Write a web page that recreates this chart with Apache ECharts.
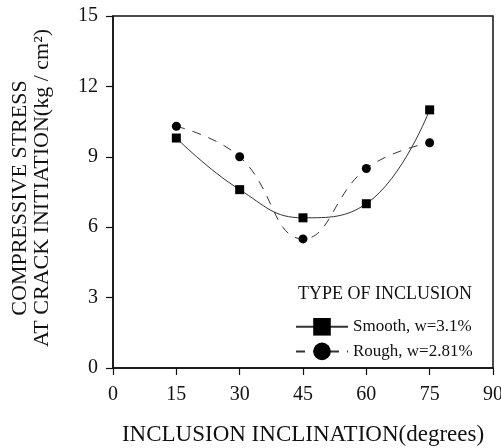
<!DOCTYPE html>
<html><head><meta charset="utf-8">
<script src="https://cdn.jsdelivr.net/npm/echarts@6/dist/echarts.min.js"></script>
<style>html,body{margin:0;padding:0;background:#fff}#c{width:501px;height:448px}</style>
</head><body><div id="c"></div>
<script>
const inclination = [15, 30, 45, 60, 75];
const smoothStress = [9.8, 7.6, 6.4, 7.0, 11.0];
const roughStress = [10.3, 9.0, 5.5, 8.5, 9.6];
const xTicks = [0, 15, 30, 45, 60, 75, 90];
const yTicks = [0, 3, 6, 9, 12, 15];
const seriesNames = ['Smooth, w=3.1%', 'Rough, w=2.81%'];

const F = 'Liberation Serif';
const chart = echarts.init(document.getElementById('c'), null, {renderer: 'canvas'});
chart.setOption({
  animation: false,
  backgroundColor: '#fff',
  grid: {left: 113, right: 8, top: 16, bottom: 80, show: true, borderColor: '#111', borderWidth: 1.5,
         containLabel: false, outerBoundsMode: 'none'},
  xAxis: {
    type: 'value', min: xTicks[0], max: xTicks[xTicks.length-1], interval: 15,
    splitLine: {show: false},
    axisLine: {lineStyle: {color: '#111', width: 1.5}},
    axisTick: {inside: false, length: 7, lineStyle: {color: '#111', width: 1.2}},
    axisLabel: {color: '#111', fontFamily: F, fontSize: 20, margin: 17, showMaxLabel: true, showMinLabel: true},
    name: 'INCLUSION INCLINATION(degrees)', nameLocation: 'middle', nameGap: 55,
    nameTextStyle: {color: '#111', fontFamily: F, fontSize: 23}
  },
  yAxis: {
    type: 'value', min: yTicks[0], max: yTicks[yTicks.length-1], interval: 3,
    splitLine: {show: false},
    axisLine: {lineStyle: {color: '#111', width: 1.5}},
    axisTick: {inside: false, length: 7, lineStyle: {color: '#111', width: 1.2}},
    axisLabel: {color: '#111', fontFamily: F, fontSize: 20, margin: 15}
  },
  title: {
    text: 'TYPE OF INCLUSION', left: 293, top: 280,
    textStyle: {color: '#111', fontFamily: F, fontSize: 18, fontWeight: 'normal'}
  },
  legend: {
    orient: 'vertical', left: 290, top: 313, itemGap: 7, itemWidth: 52, itemHeight: 22,
    data: seriesNames,
    textStyle: {color: '#111', fontFamily: F, fontSize: 17}
  },
  graphic: [
    {type: 'text', rotation: Math.PI/2, x: 20, y: 198,
     style: {text: 'COMPRESSIVE STRESS', fill: '#111', font: '22px "Liberation Serif"', textAlign: 'center', textVerticalAlign: 'middle'}},
    {type: 'text', rotation: Math.PI/2, x: 42, y: 188,
     style: {text: 'AT CRACK INITIATION(kg / cm²)', fill: '#111', font: '22px "Liberation Serif"', textAlign: 'center', textVerticalAlign: 'middle'}}
  ],
  series: [
    {
      name: seriesNames[0], type: 'line', smooth: 0.45,
      data: inclination.map((x, i) => [x, smoothStress[i]]),
      symbol: 'rect', symbolSize: 9,
      itemStyle: {color: '#000'},
      lineStyle: {color: '#333', width: 1}
    },
    {
      name: seriesNames[1], type: 'line', smooth: 0.45,
      data: inclination.map((x, i) => [x, roughStress[i]]),
      symbol: 'circle', symbolSize: 9,
      itemStyle: {color: '#000'},
      lineStyle: {color: '#333', width: 1, type: [9, 8]}
    }
  ]
});
</script></body></html>
